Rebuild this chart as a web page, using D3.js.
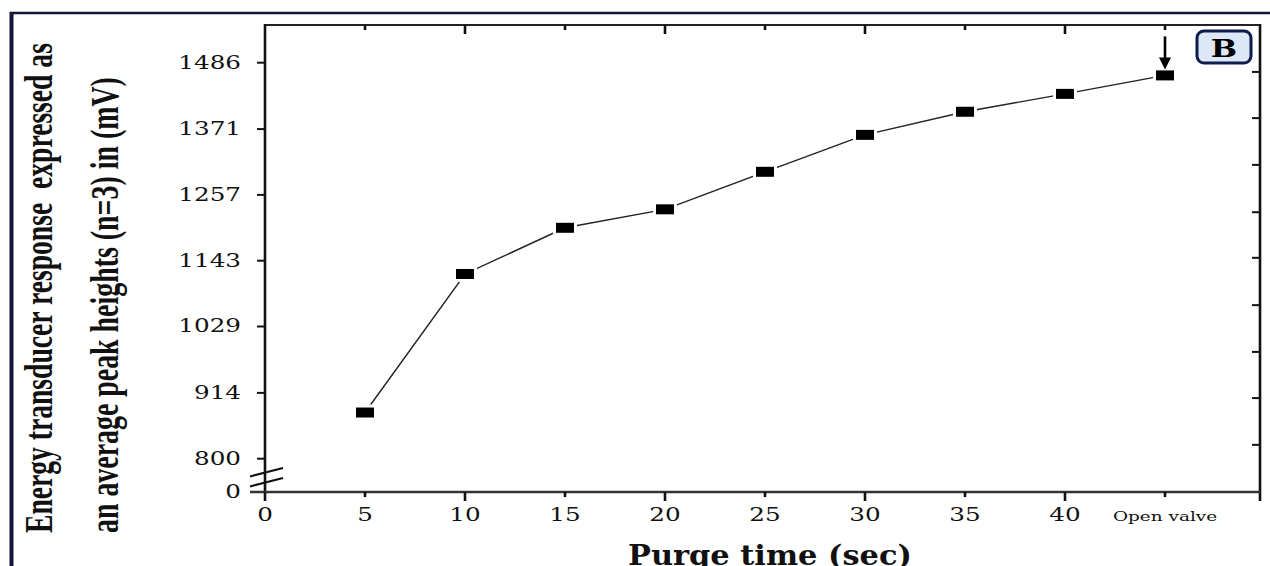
<!DOCTYPE html>
<html>
<head>
<meta charset="utf-8">
<script src="https://cdn.jsdelivr.net/npm/d3@7"></script>
<style>
body { margin: 0; background: #fff; }
svg { display: block; }
</style>
</head>
<body>
<script>
const width = 1270;
const height = 566;

// purge time in sec (45 is the "Open valve" position) and mean peak heights (mV)
const purgeTime = [5, 10, 15, 20, 25, 30, 35, 40, 45];
const peakHeight = [880, 1120, 1200, 1232, 1297, 1361, 1401, 1432, 1464];

// tick labels
const yTickValues = [0, 800, 914, 1029, 1143, 1257, 1371, 1486];
const xMajorTicks = [0, 10, 20, 30, 40];
const xMinorTicks = [5, 15, 25, 35, 45];
const xTickValues = [0, 5, 10, 15, 20, 25, 30, 35, 40, 45];
const xTickLabels = ["0", "5", "10", "15", "20", "25", "30", "35", "40", "Open valve"];
// right axis ticks do not line up with the left ones in the original figure
const rightTickValues = [824, 905, 985, 1066, 1148, 1227, 1309, 1390, 1470];

const plot = {left: 265, right: 1260, top: 25, bottom: 492};

const x = d3.scaleLinear()
    .domain([0, 49.75])
    .range([plot.left, plot.right]);

// broken y axis: 0..800 squeezed into the gap at the bottom
const y = d3.scaleLinear()
    .domain([0, 800, 1486, 1551])
    .range([plot.bottom, 458.7, 62.7, plot.top]);

const svg = d3.select("body")
    .append("svg")
    .attr("width", width)
    .attr("height", height)
    .style("font-family", "'DejaVu Serif', serif");

// outer navy frame (cut off at right and bottom)
svg.append("line")
    .attr("x1", 10).attr("x2", width).attr("y1", 13).attr("y2", 13)
    .attr("stroke", "#15153a").attr("stroke-width", 2.5);
svg.append("line")
    .attr("x1", 11.5).attr("x2", 11.5).attr("y1", 12).attr("y2", height)
    .attr("stroke", "#15153a").attr("stroke-width", 4);

const axisColor = "#222";

// box lines
svg.append("line") // top
    .attr("x1", plot.left).attr("x2", plot.right + 1).attr("y1", plot.top).attr("y2", plot.top)
    .attr("stroke", axisColor).attr("stroke-width", 2.2);
svg.append("line") // right
    .attr("x1", plot.right).attr("x2", plot.right).attr("y1", plot.top - 1).attr("y2", plot.bottom + 9)
    .attr("stroke", "#111").attr("stroke-width", 2.6);
svg.append("line") // left
    .attr("x1", plot.left).attr("x2", plot.left).attr("y1", plot.top - 1).attr("y2", plot.bottom)
    .attr("stroke", "#111").attr("stroke-width", 2.6);
svg.append("line") // bottom
    .attr("x1", 250).attr("x2", plot.right).attr("y1", plot.bottom).attr("y2", plot.bottom)
    .attr("stroke", "#333").attr("stroke-width", 2.4);

// bottom ticks
svg.append("g").selectAll("line")
    .data(xMajorTicks)
    .join("line")
    .attr("x1", d => x(d)).attr("x2", d => x(d))
    .attr("y1", plot.bottom).attr("y2", plot.bottom + 9)
    .attr("stroke", "#111").attr("stroke-width", 2.6);
svg.append("g").selectAll("line")
    .data(xMinorTicks)
    .join("line")
    .attr("x1", d => x(d)).attr("x2", d => x(d))
    .attr("y1", plot.bottom).attr("y2", plot.bottom + 5)
    .attr("stroke", "#111").attr("stroke-width", 2.6);

// top ticks (inward)
svg.append("g").selectAll("line")
    .data(xMajorTicks.filter(d => d > 0))
    .join("line")
    .attr("x1", d => x(d)).attr("x2", d => x(d))
    .attr("y1", plot.top).attr("y2", plot.top + 9)
    .attr("stroke", "#111").attr("stroke-width", 2.6);
svg.append("g").selectAll("line")
    .data(xMinorTicks)
    .join("line")
    .attr("x1", d => x(d)).attr("x2", d => x(d))
    .attr("y1", plot.top).attr("y2", plot.top + 5)
    .attr("stroke", "#111").attr("stroke-width", 2.6);

// left ticks (outward)
svg.append("g").selectAll("line")
    .data(yTickValues.filter(d => d > 0))
    .join("line")
    .attr("x1", plot.left - 8).attr("x2", plot.left)
    .attr("y1", d => y(d)).attr("y2", d => y(d))
    .attr("stroke", "#111").attr("stroke-width", 2);

// right ticks (inward)
svg.append("g").selectAll("line")
    .data(rightTickValues)
    .join("line")
    .attr("x1", plot.right - 8).attr("x2", plot.right)
    .attr("y1", d => y(d)).attr("y2", d => y(d))
    .attr("stroke", "#111").attr("stroke-width", 2);

// axis break marks
const breakY = [y(470), y(230)];
svg.append("g").selectAll("line")
    .data(breakY)
    .join("line")
    .attr("x1", plot.left - 15).attr("x2", plot.left + 18)
    .attr("y1", d => d + 4).attr("y2", d => d - 4.5)
    .attr("stroke", "#111").attr("stroke-width", 2);

// y tick labels
svg.append("g").selectAll("text")
    .data(yTickValues)
    .join("text")
    .attr("transform", d => `translate(241,${y(d)}) scale(1.37,1)`)
    .attr("dy", "0.33em")
    .attr("text-anchor", "end")
    .style("font-size", "18px")
    .attr("fill", "#111")
    .text(d => d);

// x tick labels
svg.append("g").selectAll("text")
    .data(xTickValues)
    .join("text")
    .attr("transform", (d, i) => i === xTickValues.length - 1
        ? `translate(${x(d)},521) scale(1.42,1)`
        : `translate(${x(d)},521) scale(1.37,1)`)
    .attr("text-anchor", "middle")
    .style("font-size", (d, i) => i === xTickValues.length - 1 ? "13px" : "18px")
    .attr("fill", "#111")
    .text((d, i) => xTickLabels[i]);

// x title (bottom edge of the figure trims it, as in the source image)
const xTitle = svg.append("text")
    .style("font-size", "28px")
    .style("font-weight", "bold")
    .attr("fill", "#111")
    .text("Purge time (sec)");
const xTitleW = xTitle.node().getComputedTextLength();
xTitle.attr("transform", `translate(628,565) scale(${284 / xTitleW},1)`);

// y title, two lines, squeezed along the text like the source
const yTitle = [
    {text: "Energy transducer response  expressed as", x: 52, len: 490},
    {text: "an average peak heights (n=3) in (mV)", x: 118, len: 456}
];
svg.append("g").selectAll("text")
    .data(yTitle)
    .join("text")
    .style("font-family", "'Liberation Serif', serif")
    .style("font-size", "40px")
    .style("font-weight", "bold")
    .style("white-space", "pre")
    .attr("fill", "#111")
    .text(d => d.text)
    .attr("transform", function(d) {
        const w = this.getComputedTextLength();
        return `translate(${d.x},533) rotate(-90) scale(${d.len / w},1)`;
    });

// data line
const line = d3.line()
    .x((d, i) => x(purgeTime[i]))
    .y(d => y(d));

svg.append("path")
    .datum(peakHeight)
    .attr("d", line)
    .attr("fill", "none")
    .attr("stroke", "#222")
    .attr("stroke-width", 1.4);

// markers with white halo so the line stops short
svg.append("g").selectAll("rect")
    .data(peakHeight)
    .join("rect")
    .attr("x", (d, i) => x(purgeTime[i]) - 12)
    .attr("y", d => y(d) - 8)
    .attr("width", 24).attr("height", 16)
    .attr("fill", "#fff");
svg.append("g").selectAll("rect")
    .data(peakHeight)
    .join("rect")
    .attr("x", (d, i) => x(purgeTime[i]) - 9)
    .attr("y", d => y(d) - 5)
    .attr("width", 18).attr("height", 10)
    .attr("fill", "#000");

// arrow pointing at the open valve point
const lastX = x(purgeTime[purgeTime.length - 1]);
const lastY = y(peakHeight[peakHeight.length - 1]);
svg.append("line")
    .attr("x1", lastX).attr("x2", lastX)
    .attr("y1", lastY - 39).attr("y2", lastY - 15)
    .attr("stroke", "#000").attr("stroke-width", 2.6);
svg.append("path")
    .attr("d", `M${lastX - 6},${lastY - 18} L${lastX + 6},${lastY - 18} L${lastX},${lastY - 6} Z`)
    .attr("fill", "#000");

// panel label "B"
svg.append("rect")
    .attr("x", 1197).attr("y", 31)
    .attr("width", 54).attr("height", 32)
    .attr("rx", 7)
    .attr("fill", "#dce8f8")
    .attr("stroke", "#0d1b4d")
    .attr("stroke-width", 3);
svg.append("text")
    .attr("transform", "translate(1224,57) scale(1.3,1)")
    .attr("text-anchor", "middle")
    .style("font-size", "24px")
    .style("font-weight", "bold")
    .attr("fill", "#000")
    .text("B");
</script>
</body>
</html>
